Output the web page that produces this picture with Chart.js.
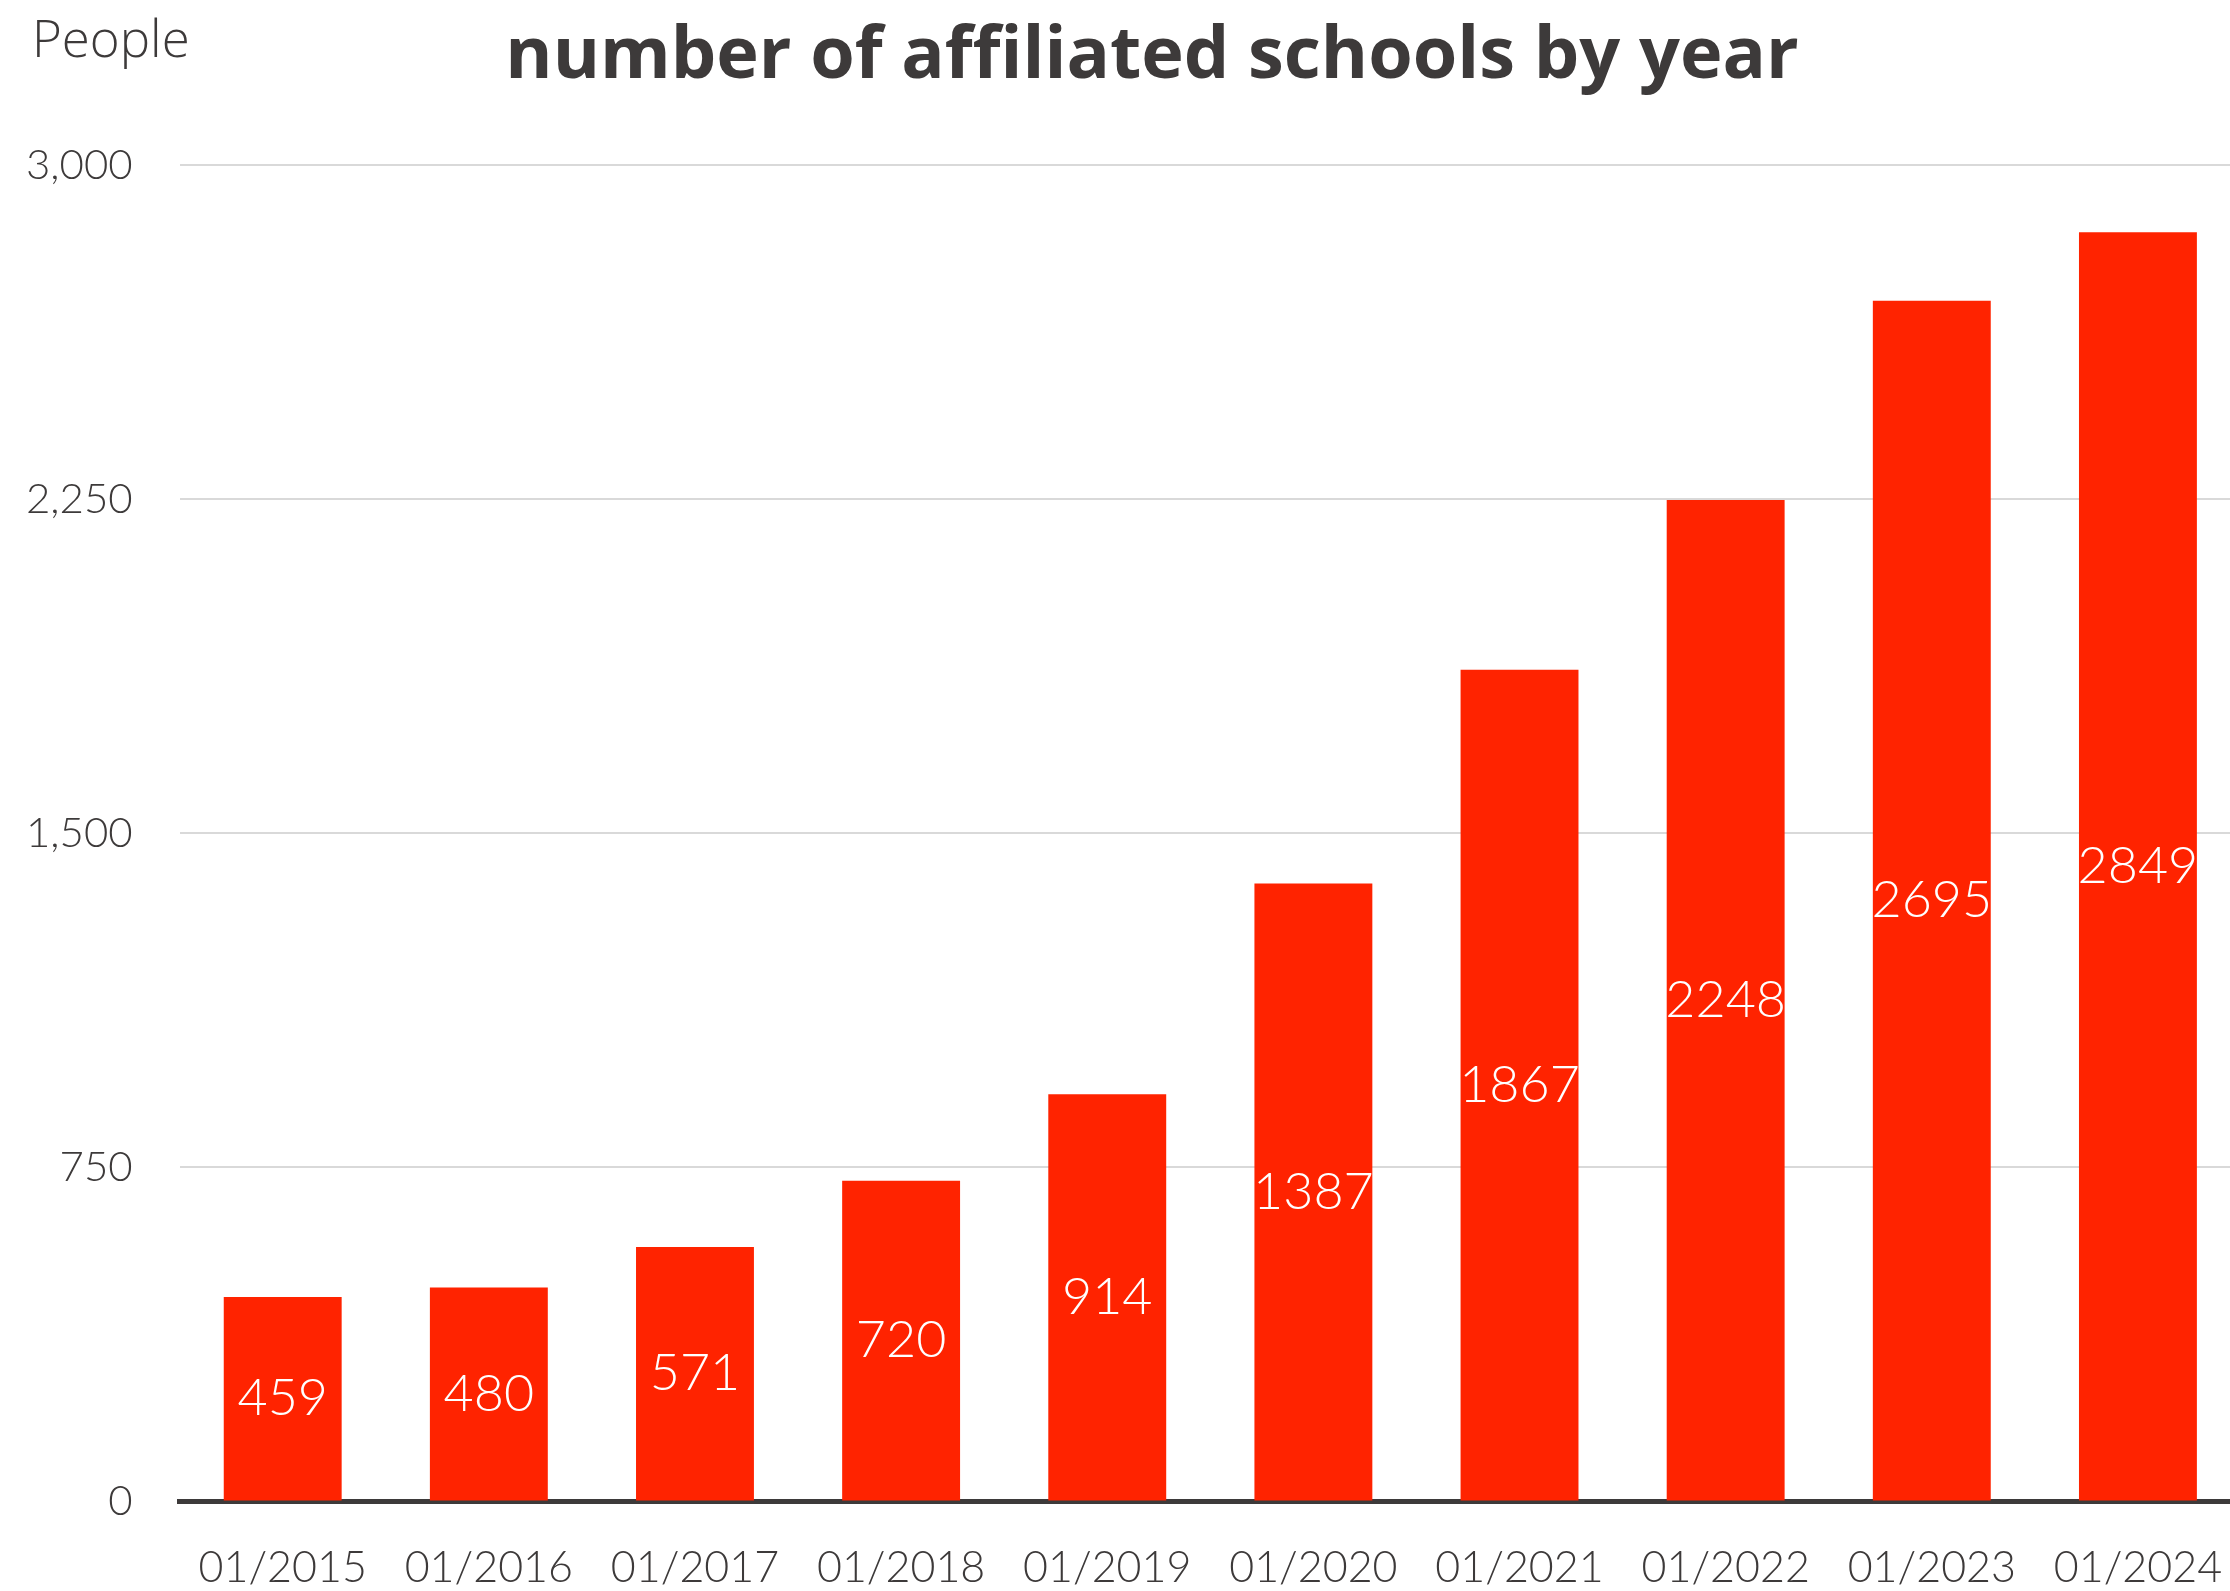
<!DOCTYPE html>
<html>
<head>
<meta charset="utf-8">
<script src="https://cdn.jsdelivr.net/npm/chart.js@4.4.1/dist/chart.umd.min.js"></script>
<style>
  html, body { margin: 0; padding: 0; background: #fff; overflow: hidden; }
  /* a área do gráfico passa um pouco da borda direita, como no original */
  #wrap { width: 2241px; height: 1591px; }
</style>
</head>
<body>
<div id="wrap"><canvas id="bar-chart"></canvas></div>
<script>
// dados
const anos = ['01/2015', '01/2016', '01/2017', '01/2018', '01/2019',
              '01/2020', '01/2021', '01/2022', '01/2023', '01/2024'];
const escolas = [459, 480, 571, 720, 914, 1387, 1867, 2248, 2695, 2849];
const yTicks = [0, 750, 1500, 2250, 3000];

const titulo = 'number of affiliated schools by year';
const textColor = '#3d3a3a';

// rótulos brancos no meio das barras, título e "People"
const labelsPlugin = {
    id: 'labelsPlugin',
    afterDatasetsDraw(chart) {
        const ctx = chart.ctx;
        const meta = chart.getDatasetMeta(0);
        ctx.save();
        ctx.fillStyle = '#ffffff';
        ctx.font = '300 52px Lato';
        ctx.textAlign = 'center';
        ctx.textBaseline = 'middle';
        meta.data.forEach((bar, i) => {
            const mid = (bar.y + bar.base) / 2;
            ctx.fillText(escolas[i], bar.x, mid);
        });
        ctx.restore();
    },
    afterDraw(chart) {
        const ctx = chart.ctx;
        ctx.save();
        ctx.fillStyle = textColor;
        ctx.font = '300 51px "Open Sans"';
        ctx.textAlign = 'left';
        ctx.textBaseline = 'middle';
        ctx.fillText('People', 32, 42);

        ctx.font = 'bold 72px "Open Sans"';
        ctx.textAlign = 'center';
        ctx.textBaseline = 'alphabetic';
        ctx.fillText(titulo, 1152, 78);
        ctx.restore();
    }
};

const ctx1 = document.getElementById('bar-chart');
const chart1 = new Chart(ctx1, {
    type: 'bar',
    data: {
        labels: anos,
        datasets: [{
            label: 'number of affiliated schools',
            data: escolas,
            backgroundColor: '#ff2300',
            barPercentage: 0.572,
            categoryPercentage: 1.0
        }]
    },
    options: {
        responsive: true,
        maintainAspectRatio: false,
        animation: false,
        layout: {
            padding: { left: -21, right: 0, top: 165, bottom: -44 }
        },
        plugins: {
            legend: { display: false },
            tooltip: { enabled: false },
            title: { display: false }
        },
        scales: {
            x: {
                grid: { display: false, drawTicks: false },
                border: { display: true, color: textColor, width: 5 },
                ticks: {
                    color: textColor,
                    font: { family: 'Lato', size: 43, weight: '300' },
                    padding: 41,
                    maxRotation: 0
                },
                afterFit(axis) {
                    axis.paddingLeft = 0;
                    axis.paddingRight = 0;
                }
            },
            y: {
                min: 0,
                max: 3000,
                afterBuildTicks(axis) {
                    axis.ticks = yTicks.map(v => ({ value: v }));
                },
                grid: { color: '#d9d9d9', lineWidth: 2, drawTicks: false },
                border: { display: false },
                ticks: {
                    color: textColor,
                    font: { family: 'Lato', size: 42, weight: '300' },
                    padding: 47,
                    callback: v => v.toLocaleString('en-US')
                }
            }
        }
    },
    plugins: [labelsPlugin]
});
</script>
</body>
</html>
